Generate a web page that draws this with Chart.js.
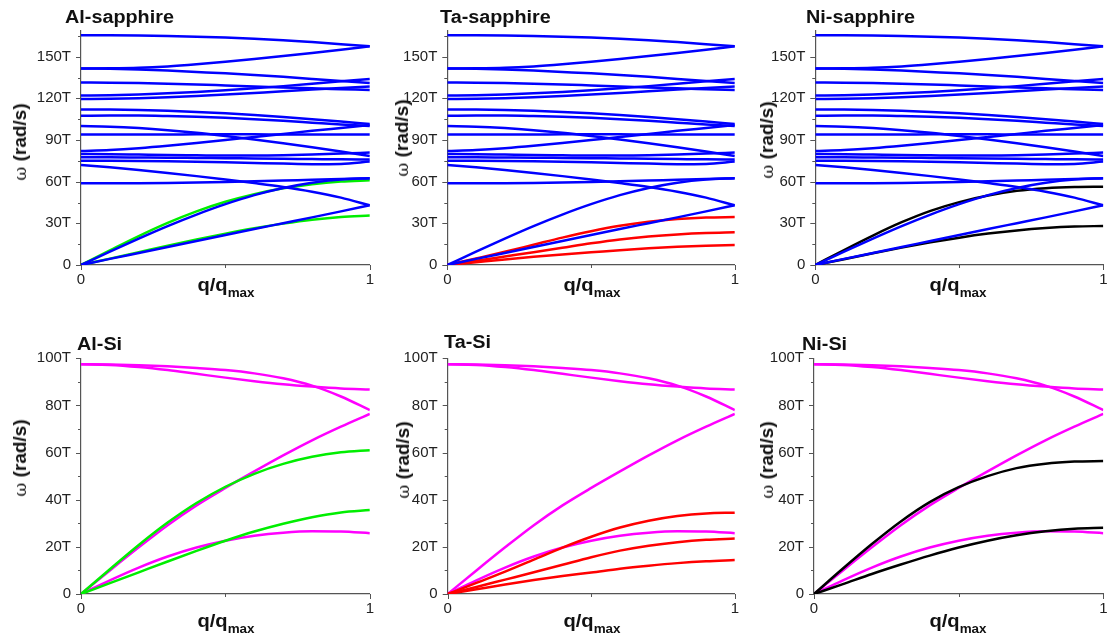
<!DOCTYPE html>
<html><head><meta charset="utf-8">
<script src="https://cdn.jsdelivr.net/npm/chart.js@4.4.0/dist/chart.umd.min.js"></script>
<style>
html,body{margin:0;padding:0;background:#fff;overflow:hidden;width:1107px;height:639px;position:relative;}
canvas{position:absolute;}
.ttl{position:absolute;font:bold 18px 'Liberation Sans',Arial,sans-serif;line-height:18px;color:#111;white-space:nowrap;transform:scaleX(1.1);transform-origin:0 0;}
.xt{position:absolute;font:bold 18px 'Liberation Sans',Arial,sans-serif;line-height:18px;color:#111;white-space:nowrap;transform:translateX(-50%) scaleX(1.12);}
.xt span{font-size:12px;position:relative;top:6px;}
.yt{position:absolute;font:bold 19px 'Liberation Sans',Arial,sans-serif;line-height:19px;color:#111;white-space:nowrap;transform:translate(-50%,-50%) rotate(-90deg);}
.yt i{font-style:normal;font-weight:normal;font-family:'DejaVu Serif',serif;font-size:17px;}
</style></head><body>
<script>
// ---------- data (q/qmax sampled every 0.1) ----------
const qValues = [0, 0.1, 0.2, 0.3, 0.4, 0.5, 0.6, 0.7, 0.8, 0.9, 1];

// sapphire branches (T rad/s)
const sap01 = [165.5, 165.4, 165.2, 164.9, 164.4, 163.8, 163.0, 161.9, 160.5, 159.0, 157.5];
const sap02 = [141.5, 141.6, 142.0, 143.0, 144.5, 146.3, 148.3, 150.5, 152.7, 155.0, 157.5];
const sap03 = [141.5, 141.3, 140.8, 140.0, 139.0, 138.0, 136.8, 135.5, 134.0, 132.5, 131.0];
const sap04 = [131.5, 131.3, 131.0, 130.5, 130.0, 129.3, 128.6, 127.9, 127.2, 126.6, 126.0];
const sap05 = [122.0, 122.3, 122.8, 123.6, 124.6, 125.8, 127.2, 128.8, 130.5, 132.3, 134.0];
const sap06 = [119.5, 119.7, 120.1, 120.8, 121.7, 122.7, 123.9, 125.1, 126.4, 127.5, 128.5];
const sap07 = [112.0, 111.9, 111.6, 111.0, 110.2, 109.2, 108.0, 106.6, 105.0, 103.3, 101.5];
const sap08 = [107.5, 107.6, 107.6, 107.3, 106.8, 106.0, 105.0, 103.8, 102.5, 101.2, 100.0];
const sap09 = [100.0, 99.6, 98.6, 97.1, 95.2, 92.9, 90.4, 87.7, 84.8, 81.7, 78.5];
const sap10 = [94.0, 94.0, 94.0, 94.0, 94.1, 94.1, 94.1, 94.0, 94.0, 94.0, 94.0];
const sap11 = [82.0, 82.8, 84.1, 85.8, 87.8, 90.0, 92.2, 94.4, 96.6, 98.7, 100.8];
const sap12 = [80.0, 79.8, 79.5, 79.2, 79.0, 78.8, 78.8, 79.0, 79.5, 80.2, 81.0];
const sap13 = [77.5, 77.5, 77.4, 77.3, 77.1, 76.9, 76.7, 76.5, 76.3, 76.1, 76.0];
const sap14 = [75.0, 75.0, 74.9, 74.7, 74.4, 74.0, 73.5, 73.0, 72.6, 72.8, 74.5];
const sap15 = [72.0, 70.3, 68.4, 66.3, 64.0, 61.6, 59.0, 56.2, 52.8, 48.5, 43.0];
const sap16 = [58.8, 58.8, 58.9, 59.1, 59.4, 59.8, 60.3, 60.8, 61.4, 61.9, 62.4];
const sap17 = [0, 9.6, 19.0, 28.0, 36.3, 43.8, 50.3, 55.5, 59.3, 61.6, 62.5];
const sap18 = [0, 4.4, 8.7, 13.0, 17.3, 21.6, 25.9, 30.1, 34.3, 38.6, 43.0];

// silicon branches
const siOptUpper = [97.5, 97.4, 97.1, 96.6, 95.9, 95.0, 93.6, 91.5, 88.4, 83.8, 78.0];
const siOptLower = [97.5, 97.2, 96.3, 95.0, 93.4, 91.8, 90.3, 89.0, 88.0, 87.2, 86.8];
const siLA = [0, 10.0, 19.8, 29.2, 37.6, 45.0, 52.0, 58.8, 65.2, 71.0, 76.4];
const siTA = [0, 5.8, 11.2, 15.9, 19.7, 22.6, 24.7, 26.0, 26.6, 26.5, 25.8];

// metal branches
const alUpper = [0, 10.5, 20.8, 30.3, 38.6, 45.5, 51.0, 55.2, 58.2, 60.1, 61.0];
const alLower = [0, 4.6, 9.2, 13.8, 18.3, 22.6, 26.5, 29.8, 32.6, 34.6, 35.6];
const taUpper = [0, 4.7, 9.5, 14.6, 19.7, 24.3, 28.2, 31.1, 33.1, 34.2, 34.5];
const taMiddle = [0, 3.0, 6.1, 9.2, 12.4, 15.6, 18.4, 20.5, 22.0, 23.0, 23.5];
const taLower = [0, 2.0, 4.0, 5.9, 7.6, 9.1, 10.7, 12.0, 13.1, 13.9, 14.4];
const niUpper = [0, 10.8, 21.2, 30.8, 39.0, 45.3, 50.0, 53.4, 55.3, 56.2, 56.4];
const niLower = [0, 4.2, 8.5, 12.5, 16.3, 19.7, 22.6, 24.9, 26.6, 27.7, 28.1];

const xTickLabels = ['0', '', '1'];
const sapphireBranches = [sap01, sap02, sap03, sap04, sap05, sap06, sap07, sap08, sap09,
  sap10, sap11, sap12, sap13, sap14, sap15, sap16, sap17, sap18];
const siliconBranches = [siOptUpper, siOptLower, siLA, siTA];

// ---------- styling / layout ----------
const FAMILY = "'Liberation Sans', Arial, Helvetica, sans-serif";
const AXIS = '#555555';
const COLORS = {sap: '#0000FF', si: '#FF00FF', Al: '#00EE00', Ta: '#FF0000', Ni: '#000000'};
Chart.defaults.font.family = FAMILY;

const minorTicks = {
  id: 'minorTicks',
  afterDraw(chart, args, opts) {
    const {ctx, chartArea} = chart;
    const xs = chart.scales.x, ys = chart.scales.y;
    ctx.save();
    ctx.strokeStyle = AXIS; ctx.lineWidth = 1;
    ys.ticks.forEach(t => {
      const py = Math.round(ys.getPixelForValue(t.value)) + 0.5;
      const len = (Math.abs(t.value % opts.major) < 1e-6) ? 5 : 3;
      ctx.beginPath(); ctx.moveTo(chartArea.left - len, py); ctx.lineTo(chartArea.left, py); ctx.stroke();
    });
    xs.ticks.forEach((t, i) => {
      const px = Math.round(xs.getPixelForValue(t.value)) + 0.5;
      const len = xTickLabels[i] === '' ? 3 : 5;
      ctx.beginPath(); ctx.moveTo(px, chartArea.bottom); ctx.lineTo(px, chartArea.bottom + len); ctx.stroke();
    });
    ctx.restore();
  }
};

function series(arr, color) {
  return {data: qValues.map((q, i) => ({x: q, y: arr[i]})), borderColor: color,
    borderWidth: 2.5, pointRadius: 0, cubicInterpolationMode: 'monotone', fill: false};
}

const panels = [
  {title: 'Al-sapphire', metal: [alUpper, alLower], mc: COLORS.Al, base: 'sap', tx: 65, ty: 7.6, yx: 20, yy: 142,
   cx: 0, cy: 0, cw: 380, ch: 310, L: 81, R: 372, T: 30.3, B: 265, ymax: 169, minor: 15, major: 30, xtY: 291},
  {title: 'Ta-sapphire', metal: [taUpper, taMiddle, taLower], mc: COLORS.Ta, base: 'sap', tx: 440, ty: 7.6, yx: 402, yy: 138,
   cx: 380, cy: 0, cw: 365, ch: 310, L: 447.3, R: 737.7, T: 30.3, B: 265, ymax: 169, minor: 15, major: 30, xtY: 291},
  {title: 'Ni-sapphire', metal: [niUpper, niLower], mc: COLORS.Ni, base: 'sap', tx: 806, ty: 7.6, yx: 767, yy: 140,
   cx: 745, cy: 0, cw: 372, ch: 310, L: 815.3, R: 1103.3, T: 30.3, B: 265, ymax: 169, minor: 15, major: 30, xtY: 291},
  {title: 'Al-Si', metal: [alUpper, alLower], mc: COLORS.Al, base: 'si', tx: 77, ty: 334.5, yx: 20, yy: 458,
   cx: 0, cy: 318, cw: 380, ch: 321, L: 81, R: 372, T: 358.3, B: 594, ymax: 100, minor: 10, major: 20, xtY: 627},
  {title: 'Ta-Si', metal: [taUpper, taMiddle, taLower], mc: COLORS.Ta, base: 'si', tx: 444, ty: 333, yx: 403, yy: 460,
   cx: 380, cy: 318, cw: 365, ch: 321, L: 447.7, R: 737.7, T: 358.3, B: 594, ymax: 100, minor: 10, major: 20, xtY: 627},
  {title: 'Ni-Si', metal: [niUpper, niLower], mc: COLORS.Ni, base: 'si', tx: 802, ty: 334.5, yx: 767, yy: 460,
   cx: 745, cy: 318, cw: 372, ch: 321, L: 814, R: 1103.3, T: 358.3, B: 594, ymax: 100, minor: 10, major: 20, xtY: 627}
];

const XH = 30, YW = 52;
panels.forEach(p => {
  const c = document.createElement('canvas');
  c.width = p.cw; c.height = p.ch;
  c.style.left = p.cx + 'px'; c.style.top = p.cy + 'px';
  c.style.width = p.cw + 'px'; c.style.height = p.ch + 'px';
  document.body.appendChild(c);

  const t = document.createElement('div');
  t.className = 'ttl'; t.textContent = p.title;
  t.style.left = p.tx + 'px'; t.style.top = p.ty + 'px';
  document.body.appendChild(t);

  const xt = document.createElement('div');
  xt.className = 'xt'; xt.innerHTML = 'q/q<span>max</span>';
  xt.style.left = ((p.L + p.R) / 2 - 1) + 'px'; xt.style.top = (p.xtY - 15.2) + 'px';
  document.body.appendChild(xt);

  const yt = document.createElement('div');
  yt.className = 'yt'; yt.innerHTML = '<i>ω</i> (rad/s)';
  yt.style.left = p.yx + 'px'; yt.style.top = p.yy + 'px';
  document.body.appendChild(yt);

  let datasets;
  if (p.base === 'sap') {
    datasets = sapphireBranches.map(a => series(a, COLORS.sap)).concat(p.metal.map(a => series(a, p.mc)));
  } else {
    datasets = p.metal.map(a => series(a, p.mc)).concat(siliconBranches.map(a => series(a, COLORS.si)));
  }
  new Chart(c, {
    type: 'line',
    data: {datasets},
    options: {
      responsive: false, animation: false, maintainAspectRatio: false,
      layout: {padding: {left: p.L - p.cx - YW, right: p.cx + p.cw - p.R,
                         top: p.T - p.cy, bottom: p.cy + p.ch - p.B - XH}},
      plugins: {legend: {display: false}, tooltip: {enabled: false}, minorTicks: {major: p.major}},
      scales: {
        x: {type: 'linear', min: 0, max: 1, afterFit: s => { s.height = XH; },
            grid: {display: false, drawTicks: false}, border: {display: true, color: AXIS, width: 1.2},
            ticks: {stepSize: 0.5, autoSkip: false, maxRotation: 0, padding: 6, color: '#222',
                    font: {size: 15}, callback: (v, i) => xTickLabels[i]}},
        y: {type: 'linear', min: 0, max: p.ymax, afterFit: s => { s.width = YW; },
            grid: {display: false, drawTicks: false}, border: {display: true, color: AXIS, width: 1.2},
            ticks: {stepSize: p.minor, includeBounds: false, autoSkip: false, padding: 10, color: '#222',
                    font: {size: 15},
                    callback: v => (Math.abs(v % p.major) < 1e-6) ? (v === 0 ? '0' : v + 'T') : ''}}
      }
    },
    plugins: [minorTicks]
  });
});
</script>
</body></html>
